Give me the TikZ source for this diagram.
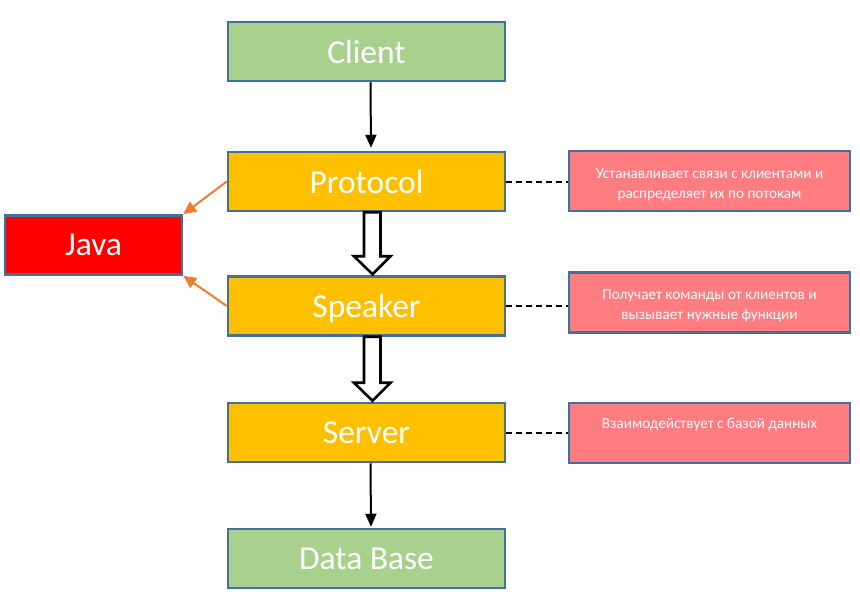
\documentclass[tikz,border=0pt]{standalone}
\usepackage{fontspec}
\setmainfont{Carlito}
\usetikzlibrary{arrows.meta,calc}
\definecolor{rim}{HTML}{41719C}
\definecolor{leaf}{HTML}{A9D18E}
\definecolor{gold}{HTML}{FFC000}
\definecolor{salmon}{HTML}{FF7C80}
\definecolor{rust}{HTML}{ED7D31}
\begin{document}
\begin{tikzpicture}[x=1pt,y=-1pt,
  box/.style={draw=rim,line width=2.5pt,inner sep=0pt,minimum width=277pt,minimum height=59pt,text=white,text depth=0pt,font=\fontsize{33.5}{36}\selectfont},
  note/.style={draw=rim,line width=2.5pt,fill=salmon,inner sep=0pt,minimum width=281pt,minimum height=60pt,text=white,align=center,font=\fontsize{15.2}{20}\selectfont},
  flow/.style={line width=2pt,-{Triangle[length=13pt,width=11pt]}},
  side/.style={rust,line width=2pt,-{Triangle[length=13pt,width=12pt]}},
  hollow/.style={draw,line width=2.6pt,fill=white,line join=miter}]
\useasboundingbox (0,0) rectangle (860,600);
%
\node[box,fill=leaf](client) at (366.5,51.5){Client};
\node[box,fill=gold](prot) at (366.5,181.5){Protocol};
\node[box,fill=gold](speak) at (366.5,306){Speaker};
\node[box,fill=gold](serv) at (366.5,432.5){Server};
\node[box,fill=leaf](db) at (366.5,558.5){Data Base};
\node[box,fill=red,minimum width=177pt](java) at (93.5,245){Java};
%
\node[note,text height=38pt,text depth=4pt](n1) at (709.5,181){Устанавливает связи с клиентами и\\распределяет их по потокам};
\node[note,text height=38pt,text depth=4pt](n2) at (709.5,302.5){Получает команды от клиентов и\\вызывает нужные функции};
\node[note,text depth=19pt](n3) at (709.5,433){Взаимодействует с базой данных};
%===========================
\draw[flow,shorten >=3pt]($(client.south)+(4,0)$)--($(prot.north)+(4.5,0)$);
\draw[flow,shorten >=1pt]($(serv.south)+(4,0)$)--($(db.north)+(4.5,0)$);
\foreach \a/\b in {prot/speak,speak/serv}{
\coordinate(tip) at ($(\b.north)+(6,-1)$);
\draw[hollow]($(\a.south)+(-2.5,0)$)--($(tip)+(-8.5,-18)$)--++(-10,0)--(tip)--++(18,-18)--++(-10,0)--($(\a.south)+(14,0)$)--cycle;
}
%
\draw[side](prot.west)--(java.north east);
\draw[side](speak.west)--(java.south east);
%
\foreach \a/\b in {prot/n1,speak/n2,serv/n3}{\draw[line width=2pt,dash pattern=on 6pt off 4pt](\a.east)--(\b.west|-\a.east);}
\end{tikzpicture}
\end{document}
